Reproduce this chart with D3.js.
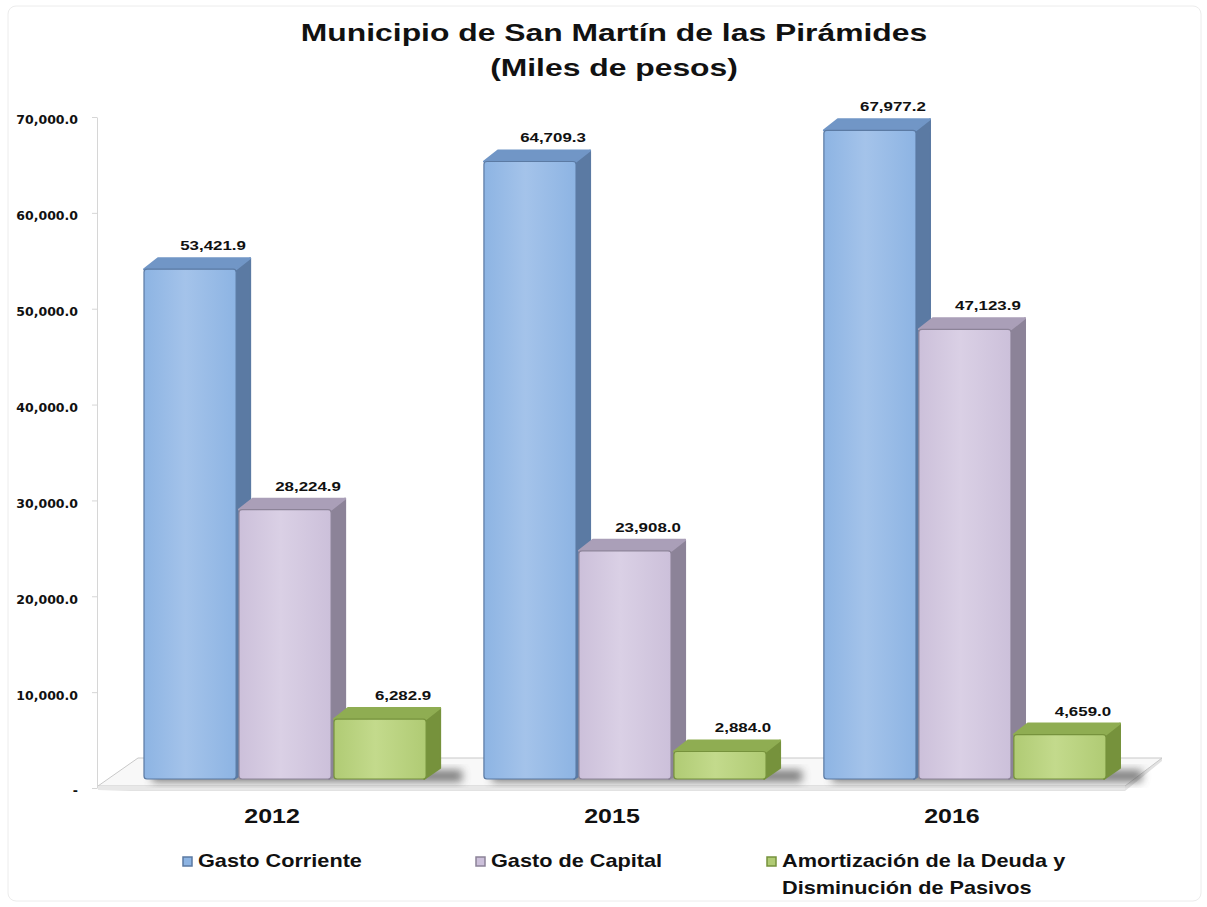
<!DOCTYPE html>
<html>
<head>
<meta charset="utf-8">
<script src="https://cdn.jsdelivr.net/npm/d3@7"></script>
<style>
  body { margin: 0; background: #fff; }
  text { font-family: Arial, "Liberation Sans", sans-serif; font-weight: bold; fill: #111; }
</style>
</head>
<body>
<div id="root"></div>
<script>
// values (miles de pesos)
const years = ['2012', '2015', '2016']
const seriesNames = ['Gasto Corriente', 'Gasto de Capital', 'Amortización de la Deuda y Disminución de Pasivos']
const gastoCorriente = [53421.9, 64709.3, 67977.2]
const gastoCapital = [28224.9, 23908.0, 47123.9]
const amortizacion = [6282.9, 2884.0, 4659.0]
const yTicks = [0, 10000, 20000, 30000, 40000, 50000, 60000, 70000]

const width = 1207
const height = 907
const stretch = 1.3 // the source picture is widened horizontally

const colors = [
    { front: '#8db4e3', light: '#a4c3ea', side: '#5b7aa3', top: '#7196c6' },
    { front: '#ccc0da', light: '#dad0e5', side: '#8c8398', top: '#aa9fb8' },
    { front: '#b0cb74', light: '#c3da8c', side: '#76923c', top: '#8fad52' }
]
const dx = 14, dy = -11

const svg = d3.select('#root').append('svg')
    .attr('width', width).attr('height', height)

// widened text helper
const wideText = (parent, x, y, size, str, anchor, sx) => parent.append('text')
    .attr('transform', `translate(${x},${y}) scale(${sx || stretch},1)`)
    .attr('text-anchor', anchor || 'middle')
    .style('font-size', size + 'px')
    .text(str)

const defs = svg.append('defs')
colors.forEach((c, i) => {
    const g = defs.append('linearGradient').attr('id', 'front-' + i)
        .attr('x1', 0).attr('x2', 1).attr('y1', 0).attr('y2', 0)
    g.append('stop').attr('offset', '0%').attr('stop-color', c.front)
    g.append('stop').attr('offset', '45%').attr('stop-color', c.light)
    g.append('stop').attr('offset', '100%').attr('stop-color', c.front)
})
defs.append('filter').attr('id', 'blur')
    .attr('x', '-20%').attr('y', '-50%').attr('width', '140%').attr('height', '200%')
    .append('feGaussianBlur').attr('stdDeviation', 4)

// outer frame
svg.append('rect')
    .attr('x', 8).attr('y', 6).attr('width', width - 14).attr('height', height - 12)
    .attr('rx', 8).attr('fill', 'none').attr('stroke', '#ececec')

// title
wideText(svg, 614, 41, 24.5, 'Municipio de San Martín de las Pirámides')
wideText(svg, 614, 76, 24.5, '(Miles de pesos)')

// scales
const yAxisScale = d3.scaleLinear().domain([0, 70000]).range([788, 117])
const yBar = d3.scaleLinear().domain([0, 70000]).range([779, 111])
const x0 = d3.scaleBand().domain(years).range([110, 1140]).paddingInner(0.17).paddingOuter(0.1)
const x1 = d3.scaleBand().domain(seriesNames).range([0, x0.bandwidth()]).paddingInner(0.03)

// axis
const axis = svg.append('g').attr('transform', 'translate(97,0)')
    .call(d3.axisLeft(yAxisScale).tickValues(yTicks).tickSizeInner(5).tickSizeOuter(0)
        .tickFormat(d => d === 0 ? '-' : d3.format(',.1f')(d)))
axis.select('.domain').attr('stroke', '#d6d6d6')
axis.selectAll('.tick line').attr('stroke', '#d6d6d6')
axis.selectAll('.tick text').attr('x', -19).attr('dy', '0.55em')
    .style('font-size', '12.5px').style('font-weight', 'bold')
    .style('font-family', '"DejaVu Sans", Verdana, sans-serif').attr('fill', '#222')

// floor
const fy = yAxisScale(0)
const fl = x0.range()[0] - 12, fr = x0.range()[1] - 15
svg.append('polygon')
    .attr('points', [[fl, fy + 3], [fr, fy + 3], [fr + 37, fy - 27], [fr + 37, fy - 29]].join(' '))
    .attr('fill', '#e2e2e2')
svg.append('polygon')
    .attr('points', [[fl, fy - 2], [fr, fy - 2], [fr + 37, fy - 30], [fl + 40, fy - 30]].join(' '))
    .attr('fill', '#f8f8f8').attr('stroke', '#c8c8c8').attr('stroke-width', 1)
svg.append('rect').attr('x', fl).attr('y', fy - 2).attr('width', fr - fl).attr('height', 4)
    .attr('fill', '#e8e8e8')

const data = years.map((yr, i) => ({
    year: yr,
    values: [gastoCorriente[i], gastoCapital[i], amortizacion[i]]
}))

// shadows on the floor
data.forEach(d => {
    svg.append('rect')
        .attr('x', x0(d.year) + 8).attr('y', yBar(0) - 9)
        .attr('width', x0.bandwidth() + 28).attr('height', 12)
        .attr('fill', '#555').attr('opacity', 0.75)
        .attr('filter', 'url(#blur)')
})

// bars
data.forEach(d => {
    const g = svg.append('g').attr('class', 'group')
    d.values.forEach((v, i) => {
        const x = x0(d.year) + x1(seriesNames[i])
        const w = x1.bandwidth()
        const top = yBar(v)
        const base = yBar(0)
        const c = colors[i]
        g.append('polygon')
            .attr('points', [[x + w - 2, top], [x + w + dx, top + dy], [x + w + dx, base + dy], [x + w - 2, base]].join(' '))
            .attr('fill', c.side).attr('stroke', c.side).attr('stroke-linejoin', 'round').attr('stroke-width', 2)
        g.append('polygon')
            .attr('points', [[x, top], [x + dx, top + dy], [x + w + dx, top + dy], [x + w, top]].join(' '))
            .attr('fill', c.top).attr('stroke', c.top).attr('stroke-linejoin', 'round').attr('stroke-width', 2)
        g.append('rect')
            .attr('x', x).attr('y', top).attr('width', w).attr('height', base - top)
            .attr('rx', 3).attr('fill', 'url(#front-' + i + ')')
            .attr('stroke', c.side).attr('stroke-width', 1.2)
        wideText(g, x + w / 2 + 23, top + dy - 8, 13, d3.format(',.1f')(v))
    })
})

// year labels
years.forEach(yr => {
    wideText(svg, x0(yr) + x0.bandwidth() / 2 - 13, 823, 20, yr, 'middle', 1.25)
})

// legend
const legendX = [183, 476, 767]
const legendLines = [['Gasto Corriente'], ['Gasto de Capital'], ['Amortización de la Deuda y', 'Disminución de Pasivos']]
legendLines.forEach((lines, i) => {
    const lg = svg.append('g').attr('transform', `translate(${legendX[i]},867)`)
    lg.append('rect').attr('x', 0).attr('y', -10).attr('width', 9).attr('height', 9)
        .attr('fill', colors[i].front).attr('stroke', colors[i].side).attr('stroke-width', 1.5)
    lines.forEach((t, j) => {
        wideText(lg, 15, j * 27, 17.5, t, 'start', 1.24)
    })
})
</script>
</body>
</html>
